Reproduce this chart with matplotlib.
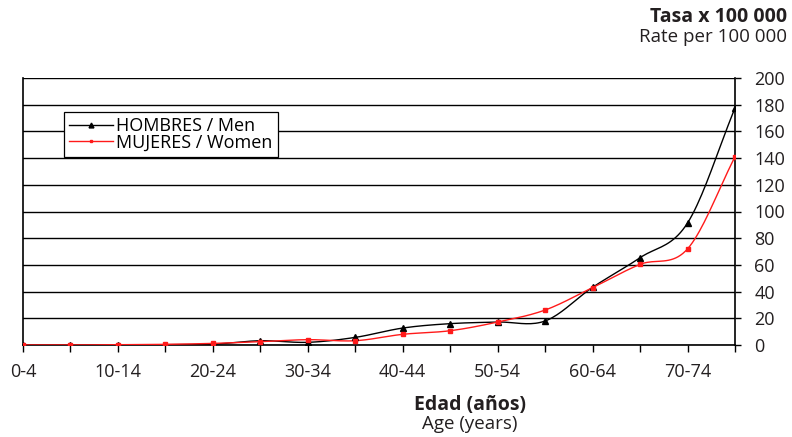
import numpy as np
import matplotlib
matplotlib.use('Agg')
import matplotlib.pyplot as plt

plt.rcParams['font.family'] = ['Open Sans', 'DejaVu Sans']

age_groups = ['0-4', '5-9', '10-14', '15-19', '20-24', '25-29', '30-34', '35-39',
              '40-44', '45-49', '50-54', '55-59', '60-64', '65-69', '70-74', '75-79']
men = [0, 0, 0, 0.3, 0.6, 3.2, 2.0, 5.7, 12.7, 16.0, 17.2, 18.0, 43.2, 65.4, 91.4, 177.5]
women = [0, 0, 0.2, 0.5, 1.2, 2.5, 4.0, 3.2, 8.0, 10.7, 17.2, 26.2, 43.0, 60.4, 72.0, 141.0]
y_ticks = [0, 20, 40, 60, 80, 100, 120, 140, 160, 180, 200]


def smooth(x, y, n=20):
    # Catmull-Rom curve through the points, like Excel's smoothed lines
    x = np.asarray(x, float)
    y = np.asarray(y, float)
    px = np.concatenate([[2 * x[0] - x[1]], x, [2 * x[-1] - x[-2]]])
    py = np.concatenate([[2 * y[0] - y[1]], y, [2 * y[-1] - y[-2]]])
    xs, ys = [], []
    t = np.linspace(0, 1, n, endpoint=False)
    for i in range(1, len(px) - 2):
        for p, out in ((px, xs), (py, ys)):
            p0, p1, p2, p3 = p[i - 1], p[i], p[i + 1], p[i + 2]
            out.extend(0.5 * (2 * p1 + (-p0 + p2) * t
                              + (2 * p0 - 5 * p1 + 4 * p2 - p3) * t ** 2
                              + (-p0 + 3 * p1 - 3 * p2 + p3) * t ** 3))
    xs.append(x[-1])
    ys.append(y[-1])
    return np.array(xs), np.array(ys)


fig = plt.figure(figsize=(7.92, 4.37), dpi=100)
ax = fig.add_axes([23 / 792, 1 - 345 / 437, 712 / 792, 267 / 437])

x = np.arange(len(age_groups))
sx, sy = smooth(x, men)
ax.plot(sx, sy, color='black', lw=1, zorder=3)
ax.plot(x, men, ls='none', marker='^', ms=4, color='black', zorder=4)
sx, sy = smooth(x, women)
ax.plot(sx, sy, color='#ff1a1a', lw=1, zorder=3)
ax.plot(x, women, ls='none', marker='s', ms=2.5, color='#ff1a1a', zorder=4)

# legend proxies
ax.plot([], [], color='black', lw=1, marker='^', ms=3.5, label='HOMBRES / Men')
ax.plot([], [], color='#ff1a1a', lw=1, marker='s', ms=2, label='MUJERES / Women')
leg = ax.legend(loc='upper left', bbox_to_anchor=(41 / 712, 233 / 267), borderaxespad=0,
                frameon=True, fancybox=False, edgecolor='black', framealpha=1,
                fontsize=13, handlelength=2.4, handletextpad=0.2, labelspacing=-0.1,
                borderpad=0.3)
leg.get_frame().set_linewidth(0.9)

ax.set_xlim(0, len(age_groups) - 1)
ax.set_ylim(0, 200)
ax.set_xticks(x)
ax.set_xticklabels([a if i % 2 == 0 else '' for i, a in enumerate(age_groups)])
ax.set_yticks(y_ticks)
ax.yaxis.tick_right()
ax.grid(axis='y', color='black', lw=1)
ax.set_axisbelow(True)
ax.spines['top'].set_visible(False)
for s in ['left', 'right', 'bottom']:
    ax.spines[s].set_linewidth(1.2)
ax.tick_params(axis='x', length=5, width=1, pad=8, labelsize=13, colors='black',
               labelcolor='#231f20')
ax.tick_params(axis='y', length=4, width=1, pad=10, labelsize=13, labelcolor='#231f20')

fig.text(787 / 792, 1 - 17 / 437, 'Tasa x 100 000', ha='right', va='center',
         fontsize=14, fontweight='bold', color='#231f20')
fig.text(787 / 792, 1 - 37 / 437, 'Rate per 100 000', ha='right', va='center',
         fontsize=13.5, color='#231f20')
fig.text(470 / 792, 1 - 405 / 437, 'Edad (años)', ha='center', va='center',
         fontsize=14, fontweight='bold', color='#231f20')
fig.text(470 / 792, 1 - 424 / 437, 'Age (years)', ha='center', va='center',
         fontsize=13.5, color='#231f20')

fig.savefig('out.png', dpi=100)
